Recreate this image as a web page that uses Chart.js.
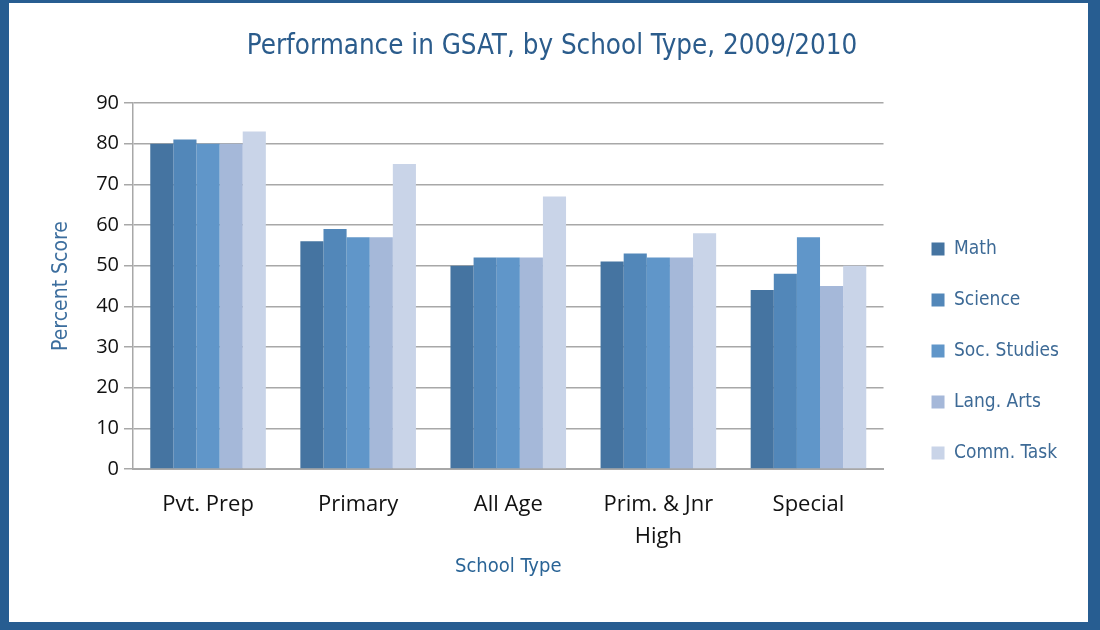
<!DOCTYPE html>
<html>
<head>
<meta charset="utf-8">
<script src="https://cdn.jsdelivr.net/npm/chart.js@4.4.1/dist/chart.umd.min.js"></script>
<style>
html,body{margin:0;padding:0;background:#275d91;}
#frame{position:absolute;left:9px;top:3px;width:1079px;height:619px;background:#fff;}
</style>
</head>
<body>
<div id="frame"><canvas id="chart" width="1079" height="619"></canvas></div>
<script>
// values
const schoolTypes = ['Pvt. Prep', 'Primary', 'All Age', ['Prim. & Jnr', 'High'], 'Special'];
const math        = [80, 56, 50, 51, 44];
const science     = [81, 59, 52, 53, 48];
const socStudies  = [80, 57, 52, 52, 57];
const langArts    = [80, 57, 52, 52, 45];
const commTask    = [83, 75, 67, 58, 50];
const subjects    = ['Math', 'Science', 'Soc. Studies', 'Lang. Arts', 'Comm. Task'];
const barColors   = ['#4574a1', '#5287b9', '#6096c9', '#a5b8d9', '#c9d4e8'];
const yTicks      = [0, 10, 20, 30, 40, 50, 60, 70, 80, 90];

const narrow = "'Liberation Sans Narrow', 'DejaVu Sans Condensed', sans-serif";
const tickFont = "'Open Sans', 'Liberation Sans', sans-serif";
const series = [math, science, socStudies, langArts, commTask];

new Chart(document.getElementById('chart'), {
  type: 'bar',
  data: {
    labels: schoolTypes,
    datasets: series.map((vals, i) => ({
      label: subjects[i],
      data: vals,
      backgroundColor: barColors[i],
      borderWidth: 0,
      barPercentage: 1,
      categoryPercentage: 0.77
    }))
  },
  options: {
    responsive: false,
    animation: false,
    layout: { padding: { left: 26, right: 19, top: 0, bottom: 0 } },
    plugins: {
      title: {
        display: true,
        text: 'Performance in GSAT, by School Type, 2009/2010',
        color: '#2b5c8c',
        font: { family: narrow, size: 27.5, weight: 'normal' },
        padding: { top: 27.5, bottom: 39.5 }
      },
      legend: {
        position: 'right',
        title: { display: true, text: ' ', font: { size: 20 }, padding: { top: 0, bottom: 53 } },
        labels: {
          color: '#3d6a96',
          font: { family: narrow, size: 19 },
          boxWidth: 13,
          boxHeight: 13,
          padding: 32
        }
      },
      tooltip: { enabled: false }
    },
    scales: {
      x: {
        grid: { display: false, drawTicks: false },
        border: { display: true, color: '#a8a8a8', width: 2 },
        ticks: {
          color: '#111',
          font: { family: tickFont, size: 22, lineHeight: 1.45 },
          padding: 20,
          maxRotation: 0,
          autoSkip: false
        },
        title: {
          display: true,
          text: 'School Type',
          color: '#2a6496',
          font: { family: narrow, size: 20 },
          padding: { top: 0, bottom: 43 }
        },
        afterFit: s => { s.height = 153; }
      },
      y: {
        min: 0,
        max: 90,
        afterBuildTicks: s => { s.ticks = yTicks.map(v => ({ value: v })); },
        grid: { color: '#a8a8a8', lineWidth: 1.5, tickLength: 9 },
        border: { display: true, color: '#a8a8a8', width: 1.5 },
        ticks: {
          color: '#111',
          font: { family: tickFont, size: 20 },
          padding: 5
        },
        title: {
          display: true,
          text: 'Percent Score',
          color: '#3c6e9e',
          font: { family: narrow, size: 21 },
          padding: { top: 14, bottom: 0 }
        },
        afterFit: s => { s.width = 98; }
      },
      gap: {
        position: 'right',
        display: true,
        grid: { display: false },
        border: { display: false },
        ticks: { display: false },
        afterFit: s => { s.width = 16; }
      }
    }
  }
});
</script>
</body>
</html>
